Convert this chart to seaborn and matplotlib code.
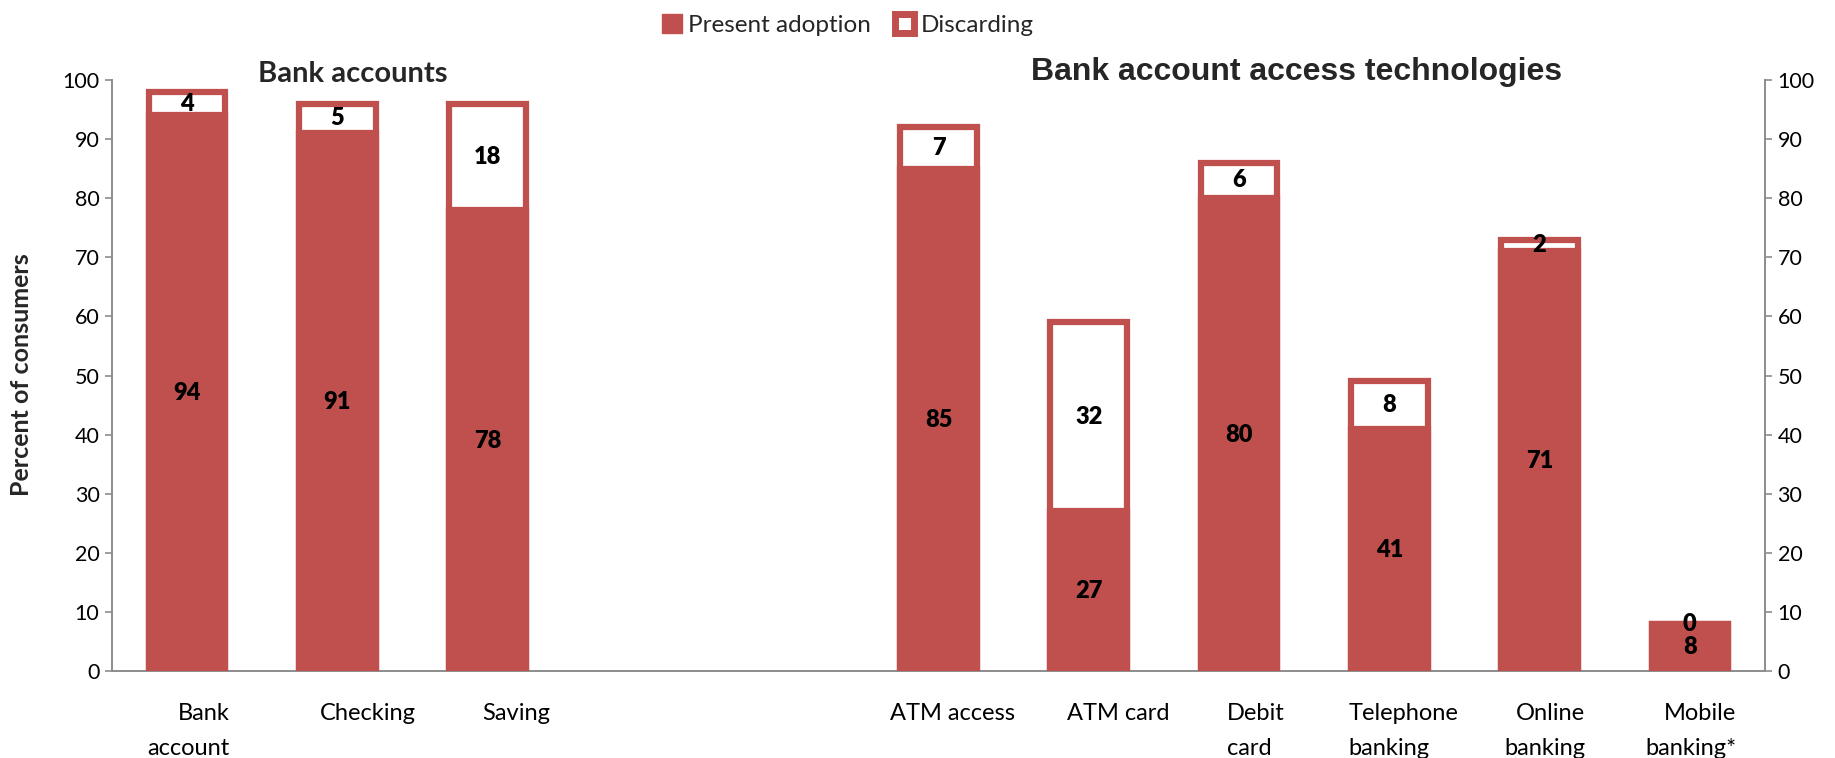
import numpy as np
import pandas as pd
import matplotlib
matplotlib.use("Agg")
import matplotlib.pyplot as plt
import matplotlib.transforms as mtransforms
from matplotlib.patches import Patch
import seaborn as sns

# ---------------- data ----------------
categories = ["Bank account", "Checking", "Saving",
              "ATM access", "ATM card", "Debit card",
              "Telephone banking", "Online banking", "Mobile banking*"]
display_labels = ["Bank\naccount", "Checking", "Saving",
                  "ATM access", "ATM card", "Debit\ncard",
                  "Telephone\nbanking", "Online\nbanking", "Mobile\nbanking*"]
present = [94, 91, 78, 85, 27, 80, 41, 71, 8]
discarding = [4, 5, 18, 7, 32, 6, 8, 2, 0]
series_names = ["Present adoption", "Discarding"]
title_left = "Bank accounts"
title_right = "Bank account access technologies"
y_label = "Percent of consumers"
y_ticks = [0, 10, 20, 30, 40, 50, 60, 70, 80, 90, 100]

# ---------------- style ----------------
sns.set_theme(style="white")
plt.rcParams["font.family"] = ["Lato", "DejaVu Sans"]

RED = "#C0504D"
GRAY = "#8C8C8C"

df = pd.DataFrame({"cat": categories, "present": present, "discarding": discarding})
df["total"] = df["present"] + df["discarding"]

gap_slots = [" ", "  "]
order = categories[:3] + gap_slots + categories[3:]
tick_texts = display_labels[:3] + ["", ""] + display_labels[3:]

fig = plt.figure(figsize=(18.35, 7.58), dpi=100)
ax = fig.add_axes([112 / 1835, 1 - 671 / 758, (1765 - 112) / 1835, (671 - 80) / 758])

bar_w = 0.51
edge_lw = 4.5
sns.barplot(data=df, x="cat", y="total", order=order, color="white",
            edgecolor=RED, linewidth=edge_lw, width=bar_w, saturation=1,
            errorbar=None, ax=ax, zorder=2)
sns.barplot(data=df, x="cat", y="present", order=order, color=RED,
            edgecolor=RED, linewidth=edge_lw, width=bar_w, saturation=1,
            errorbar=None, ax=ax, zorder=3)

ax.set_xlim(-0.5, len(order) - 0.5)
ax.set_ylim(0, 100)
ax.set_xlabel("")
ax.set_ylabel("")

# bar value labels
pos = {c: order.index(c) for c in categories}
for c, p, d in zip(categories, present, discarding):
    ax.text(pos[c], p / 2, str(p), ha="center", va="center",
            fontsize=17, fontweight="heavy", color="black", zorder=5)
    ax.text(pos[c], p + d / 2, str(d), ha="center", va="center",
            fontsize=17, fontweight="heavy", color="black", zorder=5)

# axes styling
for s in ["top", "right"]:
    ax.spines[s].set_visible(False)
for s in ["left", "bottom"]:
    ax.spines[s].set_color(GRAY)
    ax.spines[s].set_linewidth(1.4)
ax.set_yticks(y_ticks)
ax.tick_params(axis="y", which="both", left=True, length=5, width=1.2,
               color=GRAY, labelsize=15.5, pad=4, labelcolor="black")
ax.set_xticks(range(len(order)))
ax.set_xticklabels(tick_texts, fontsize=17, linespacing=1.85)
ax.tick_params(axis="x", length=0, pad=23, labelcolor="black")

# per-label horizontal offsets (px) and multiline alignment (layout only)
label_dx = [1, 30, 29, 0, 0, 14, 29, 17, 14, 5, 1]
label_align = ["right", "center", "center", "center", "center", "center",
               "center", "left", "left", "right", "right"]
for lab, dx, al in zip(ax.get_xticklabels(), label_dx, label_align):
    lab.set_transform(lab.get_transform() +
                      mtransforms.ScaledTranslation(dx / 100, 0, fig.dpi_scale_trans))
    lab.set_multialignment(al)

# right axis
ax2 = ax.twinx()
ax2.set_ylim(0, 100)
ax2.set_yticks(y_ticks)
for s in ["top", "left", "bottom"]:
    ax2.spines[s].set_visible(False)
ax2.spines["right"].set_color(GRAY)
ax2.spines["right"].set_linewidth(1.4)
ax2.tick_params(axis="y", right=True, length=5, width=1.2, color=GRAY,
                labelsize=15.5, pad=4, labelcolor="black")
ax2.grid(False)
ax.grid(False)

# titles and y label
fig.text(353 / 1835, 1 - 74 / 758, title_left, ha="center", va="center",
         fontsize=21, fontweight="bold")
fig.text(1297 / 1835, 1 - 72 / 758, title_right, ha="center", va="center",
         fontsize=23, fontweight="bold", family=["Liberation Sans", "DejaVu Sans"])
fig.text(22 / 1835, 1 - 375 / 758, y_label, rotation=90, ha="center", va="center",
         fontsize=18, fontweight="bold")

# legend
handles = [Patch(facecolor=RED, edgecolor=RED, linewidth=1),
           Patch(facecolor="white", edgecolor=RED, linewidth=5)]
fig.legend(handles, series_names, loc="center", bbox_to_anchor=(0.462, 1 - 25 / 758),
           ncol=2, frameon=False, fontsize=17.5, handlelength=0.8, handleheight=0.8,
           handletextpad=0.25, columnspacing=1.0)

fig.savefig("out.png", dpi=100)
